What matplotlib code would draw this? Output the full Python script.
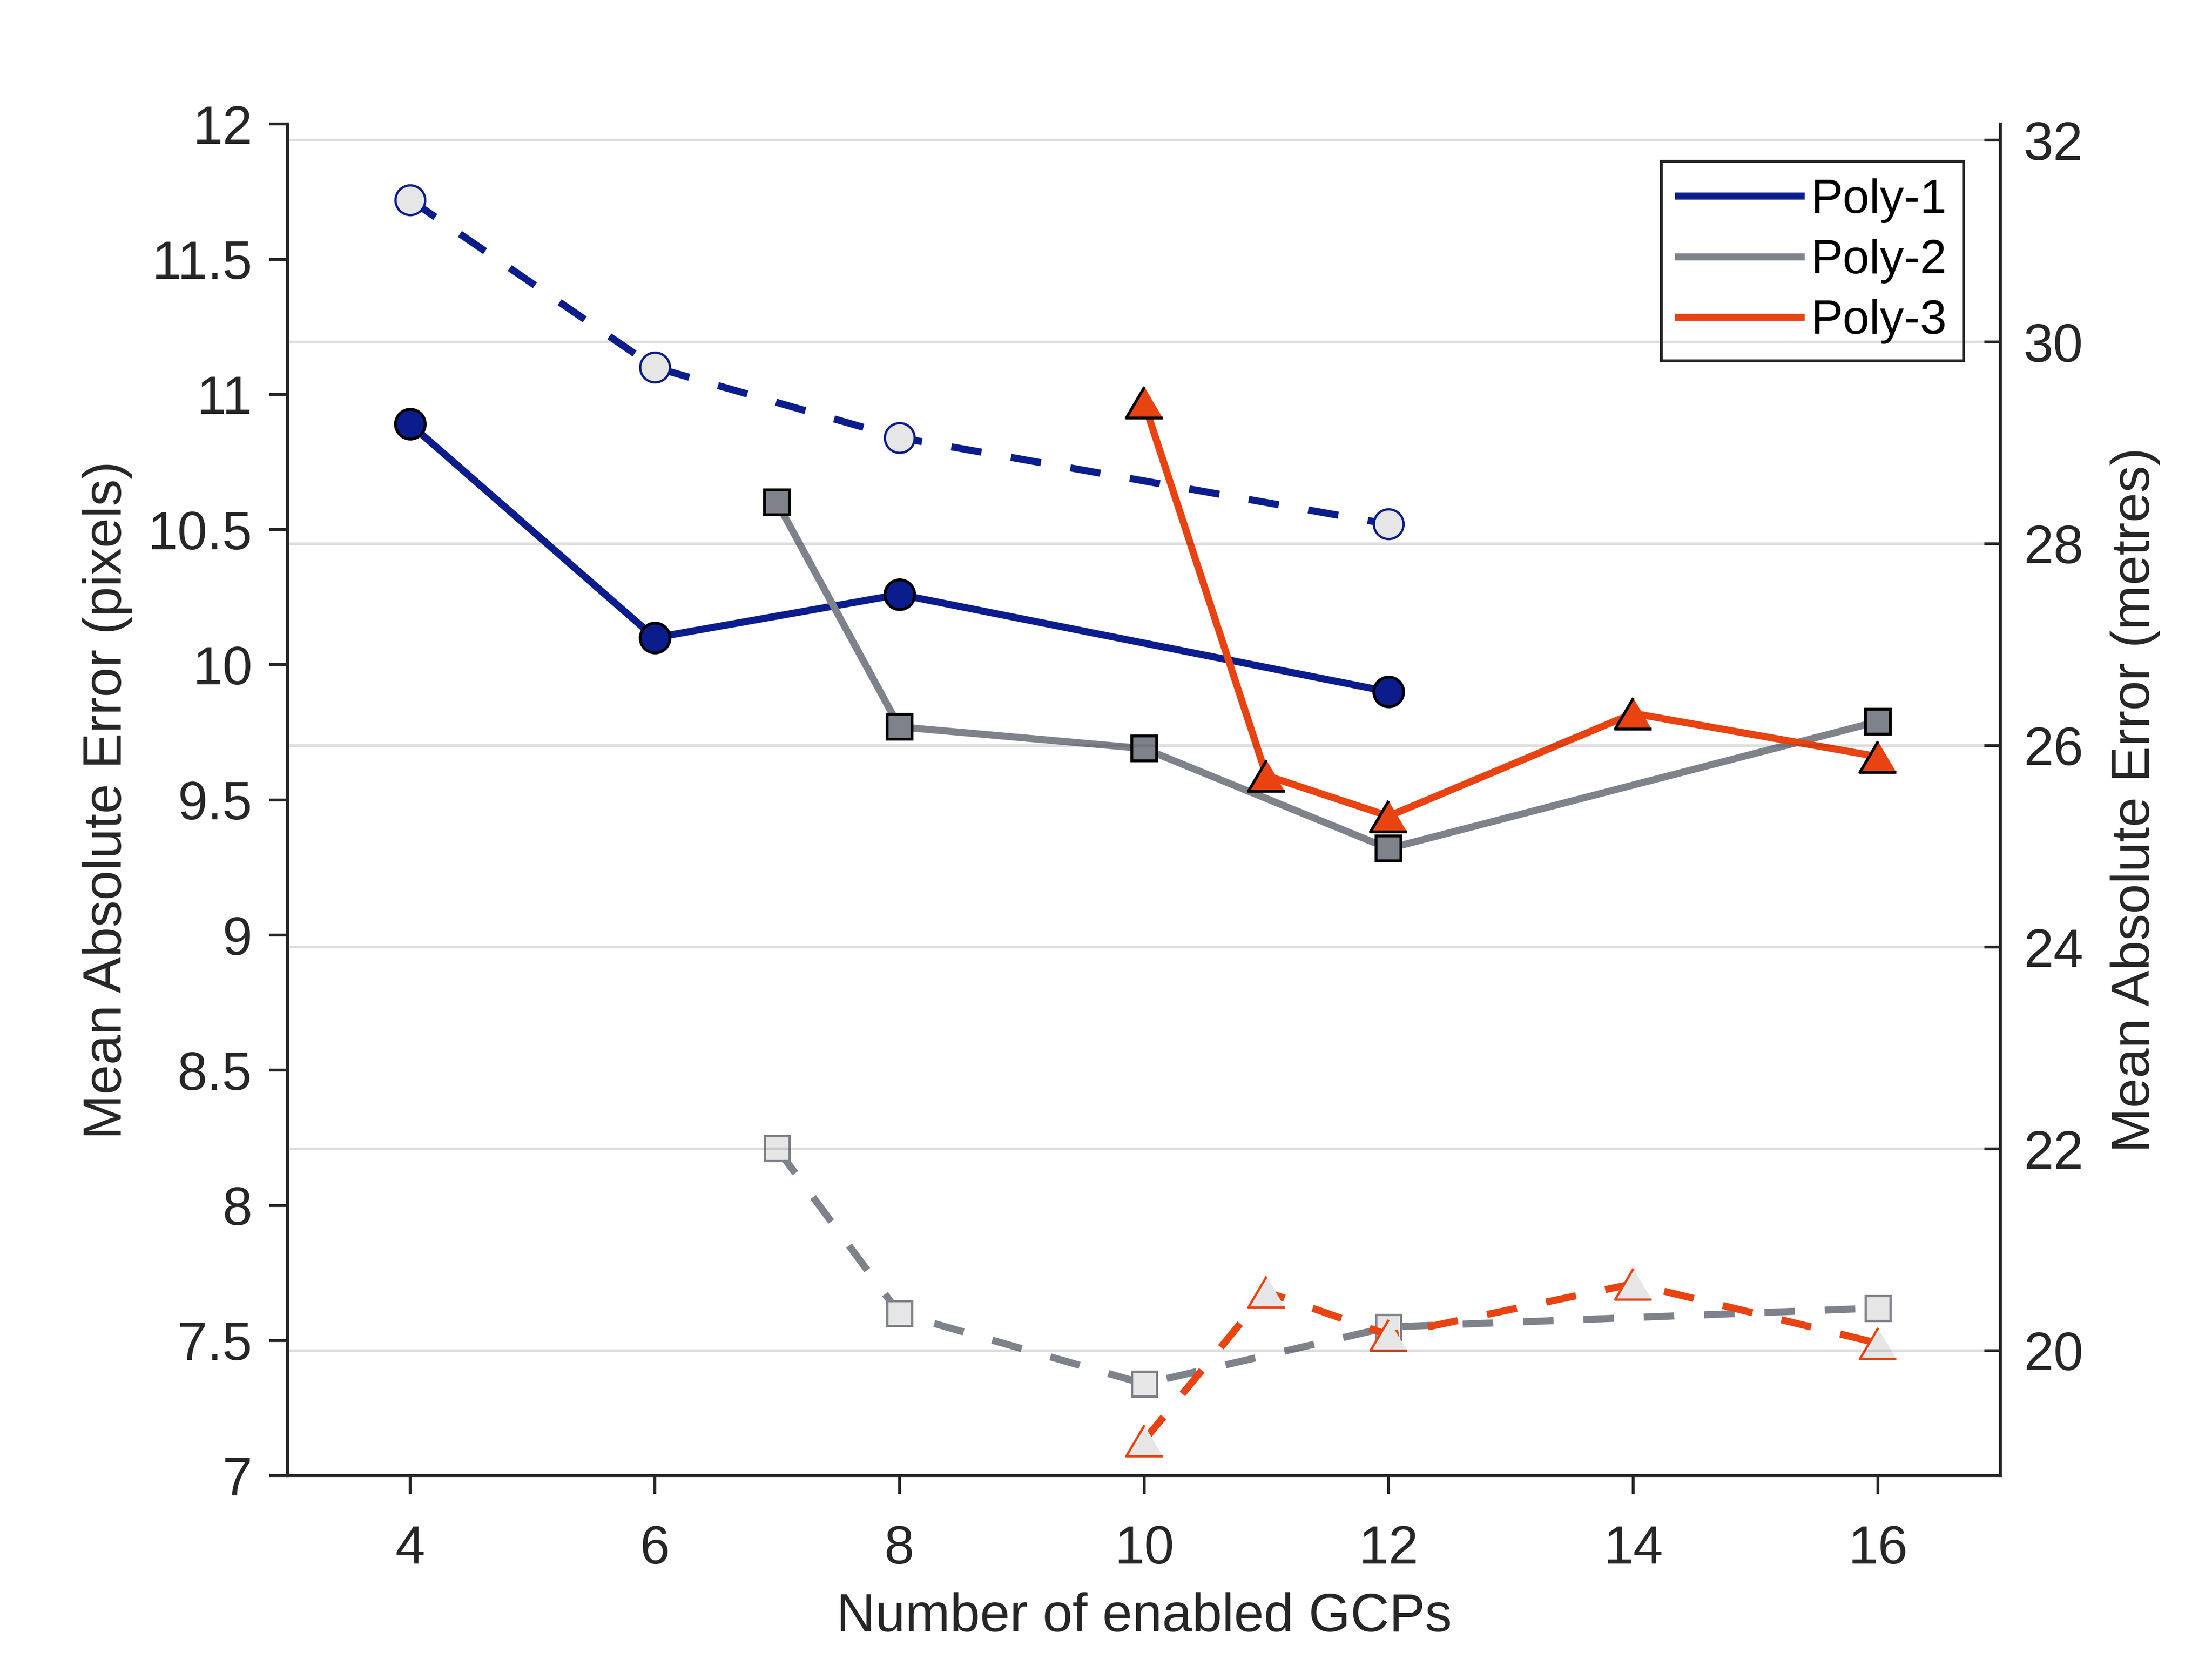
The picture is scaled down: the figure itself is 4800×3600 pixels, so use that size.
import matplotlib
matplotlib.use("Agg")
import matplotlib.pyplot as plt
from matplotlib.ticker import FuncFormatter

plt.rcParams['font.family'] = ['Liberation Sans', 'DejaVu Sans']

# ---- data (Mean Absolute Error in pixels) ----
x_poly1 = [4, 6, 8, 12]
poly1_solid = [10.89, 10.10, 10.26, 9.90]
poly1_dashed = [11.72, 11.10, 10.84, 10.52]

x_poly2 = [7, 8, 10, 12, 16]
poly2_solid = [10.60, 9.77, 9.69, 9.32, 9.79]
poly2_dashed = [8.21, 7.60, 7.34, 7.55, 7.62]

x_poly3 = [10, 11, 12, 14, 16]
poly3_solid = [10.97, 9.59, 9.44, 9.82, 9.66]
poly3_dashed = [7.13, 7.68, 7.52, 7.71, 7.49]

labels = ['Poly-1', 'Poly-2', 'Poly-3']
x_ticks = [4, 6, 8, 10, 12, 14, 16]
left_ticks = [7, 7.5, 8, 8.5, 9, 9.5, 10, 10.5, 11, 11.5, 12]
right_ticks = [20, 22, 24, 26, 28, 30, 32]
metres_per_pixel = 2.68

# ---- styles ----
c_blue = '#0B1C8D'
c_gray = '#7E828A'
c_orange = '#E84311'
light = '#E6E6E6'
txt = '#262626'
lw = 3.7
dash = (4.3, 4.2)
tri = [(0, 0.85), (-1, -0.85), (1, -0.85)]
fs = 28

fig = plt.figure(figsize=(16, 12), dpi=300)
ax = fig.add_axes([0.1301, 0.1105, 0.7742, 0.8147])

# solid series
l1, = ax.plot(x_poly1, poly1_solid, '-', color=c_blue, lw=lw, marker='o', ms=15.5,
              mfc=c_blue, mec='black', mew=1.5, zorder=3)
l2, = ax.plot(x_poly2, poly2_solid, '-', color=c_gray, lw=lw, marker='s', ms=13,
              mfc=c_gray, mec='black', mew=1.5, zorder=3)
l3, = ax.plot(x_poly3, poly3_solid, '-', color=c_orange, lw=lw, marker=tri, ms=19,
              mfc=c_orange, mec='black', mew=1.5, zorder=3)
# dashed series
ax.plot(x_poly1, poly1_dashed, '--', dashes=dash, color=c_blue, lw=lw, marker='o', ms=15.5,
        mfc=light, mec=c_blue, mew=1.2, zorder=3)
ax.plot(x_poly2, poly2_dashed, '--', dashes=dash, color=c_gray, lw=lw, marker='s', ms=13,
        mfc=light, mec=c_gray, mew=1.2, zorder=3)
ax.plot(x_poly3, poly3_dashed, '--', dashes=dash, color=c_orange, lw=lw, marker=tri, ms=19,
        mfc=light, mec=c_orange, mew=1.2, zorder=3)

ax.set_xlim(3, 17)
ax.set_ylim(7, 12)
ax.set_xticks(x_ticks)
ax.set_yticks(left_ticks)
ax.yaxis.set_major_formatter(FuncFormatter(lambda v, p: f'{v:g}'))
ax.tick_params(axis='both', direction='out', length=9.5, width=1.5, labelsize=fs,
               colors=txt)
ax.tick_params(axis='y', pad=9)
ax.tick_params(axis='x', pad=16)
for s in ['top', 'right']:
    ax.spines[s].set_visible(False)
for s in ['left', 'bottom']:
    ax.spines[s].set_linewidth(1.5)
    ax.spines[s].set_color(txt)
ax.set_xlabel('Number of enabled GCPs', fontsize=fs, color=txt, labelpad=9)
ax.set_ylabel('Mean Absolute Error (pixels)', fontsize=fs, color=txt, labelpad=8)

leg = ax.legend([l1, l2, l3], labels, loc='upper right',
                bbox_to_anchor=(0.9785, 0.9724), fontsize=25, fancybox=False,
                framealpha=1, edgecolor=txt, handlelength=2.56, handletextpad=0.2,
                borderpad=0.35, borderaxespad=0, labelspacing=0.33)
for h in leg.get_lines():
    h.set_marker('')
    h.set_linewidth(lw)
leg.get_frame().set_linewidth(1.5)

# right axis (metres) with grid
ax2 = ax.twinx()
ax2.set_ylim(7 * metres_per_pixel, 12 * metres_per_pixel)
ax2.set_yticks(right_ticks)
ax2.patch.set_visible(False)
ax2.grid(True, axis='y', color=txt, alpha=0.15, lw=1.4)
ax2.tick_params(axis='y', direction='in', length=8.5, width=1.5, labelsize=fs,
                colors=txt, pad=12)
for s in ['top', 'left', 'bottom']:
    ax2.spines[s].set_visible(False)
ax2.spines['right'].set_linewidth(1.5)
ax2.spines['right'].set_color(txt)
ax2.set_ylabel('Mean Absolute Error (metres)', fontsize=fs, color=txt, labelpad=14)

fig.savefig('out.png', dpi=300)
